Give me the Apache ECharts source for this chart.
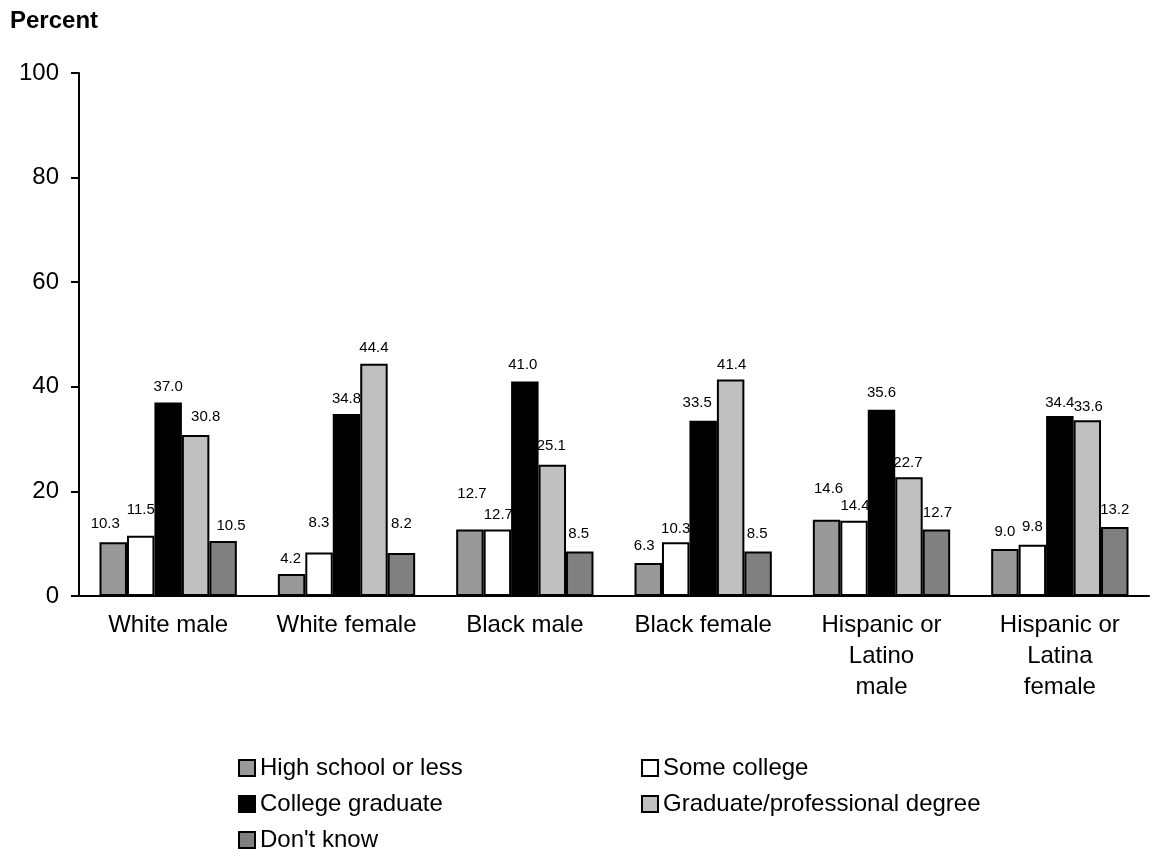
<!DOCTYPE html>
<html>
<head>
<meta charset="utf-8">
<script src="https://cdn.jsdelivr.net/npm/echarts@6/dist/echarts.min.js"></script>
<style>html,body{margin:0;padding:0;background:#fff;}#c{width:1153px;height:859px;}</style>
</head>
<body>
<div id="c"></div>
<script>
const categories = ["White male", "White female", "Black male", "Black female", "Hispanic or\nLatino\nmale", "Hispanic or\nLatina\nfemale"];
const seriesNames = ["High school or less", "Some college", "College graduate", "Graduate/professional degree", "Don't know"];
const highSchool = [10.3, 4.2, 12.7, 6.3, 14.6, 9.0];
const someCollege = [11.5, 8.3, 12.7, 10.3, 14.4, 9.8];
const collegeGrad = [37.0, 34.8, 41.0, 33.5, 35.6, 34.4];
const gradDegree = [30.8, 44.4, 25.1, 41.4, 22.7, 33.6];
const dontKnow = [10.5, 8.2, 8.5, 8.5, 12.7, 13.2];
const yTicks = [0, 20, 40, 60, 80, 100];

// small label nudges (dx, dy) mimicking the original label placement
const labelNudge = [
  [[-8,-3],[-1,0],[2,-20],[-4,-2],[2,-15],[0,-2]],
  [[0,-10],[0,-14],[1,1],[0,2],[1,1],[0,-2]],
  [[0,0],[0,0],[-2,-1],[-6,-2],[0,-1],[0,2]],
  [[10,-3],[0,0],[-1,-3],[1,1],[-1,1],[1,2]],
  [[8,0],[0,-14],[-1,-2],[-1,-2],[1,-1],[0,-2]]
];

const colors = ["#999999", "#ffffff", "#000000", "#c0c0c0", "#808080"];
const values = [highSchool, someCollege, collegeGrad, gradDegree, dontKnow];

const chart = echarts.init(document.getElementById('c'), null, {renderer: 'canvas'});
const font = 'Arial, "Liberation Sans", sans-serif';
const legendCommon = {orient: 'vertical', top: 756, height: 100, padding: 0, itemWidth: 16, itemHeight: 16, itemGap: 12, icon: 'rect',
  textStyle: {fontFamily: font, fontSize: 24, lineHeight: 24, color: '#000'}};
chart.setOption({
  animation: false,
  backgroundColor: '#fff',
  title: {text: 'Percent', left: 10, top: 9, padding: 0, textStyle: {fontFamily: font, fontSize: 24, fontWeight: 'bold', color: '#000'}},
  grid: {left: 79, right: 4, top: 73, bottom: 263},
  legend: [
    Object.assign({data: [seriesNames[0], seriesNames[2], seriesNames[4]], left: 238}, legendCommon),
    Object.assign({data: [seriesNames[1], seriesNames[3]], left: 641}, legendCommon)
  ],
  xAxis: {
    type: 'category', data: categories,
    axisLine: {lineStyle: {color: '#000', width: 2}},
    axisTick: {show: false},
    axisLabel: {fontFamily: font, fontSize: 24, color: '#000', lineHeight: 31, margin: 14, interval: 0}
  },
  yAxis: {
    type: 'value', min: 0, max: 100, interval: 20,
    axisLine: {show: true, lineStyle: {color: '#000', width: 2}},
    axisTick: {show: true, length: 8, lineStyle: {color: '#000', width: 2}},
    splitLine: {show: false},
    axisLabel: {fontFamily: font, fontSize: 24, color: '#000', margin: 20,
      formatter: v => yTicks.includes(v) ? String(v) : ''}
  },
  series: seriesNames.map((n, i) => ({
    name: n, type: 'bar',
    data: values[i].map((v, j) => ({value: v, label: {offset: labelNudge[i][j]}})),
    barGap: '0%', barCategoryGap: '23%',
    itemStyle: {color: colors[i], borderColor: '#000', borderWidth: 2},
    label: {show: true, position: 'top', distance: 8, fontFamily: font, fontSize: 15, color: '#000',
      formatter: p => p.value.toFixed(1)}
  }))
});
</script>
</body>
</html>
